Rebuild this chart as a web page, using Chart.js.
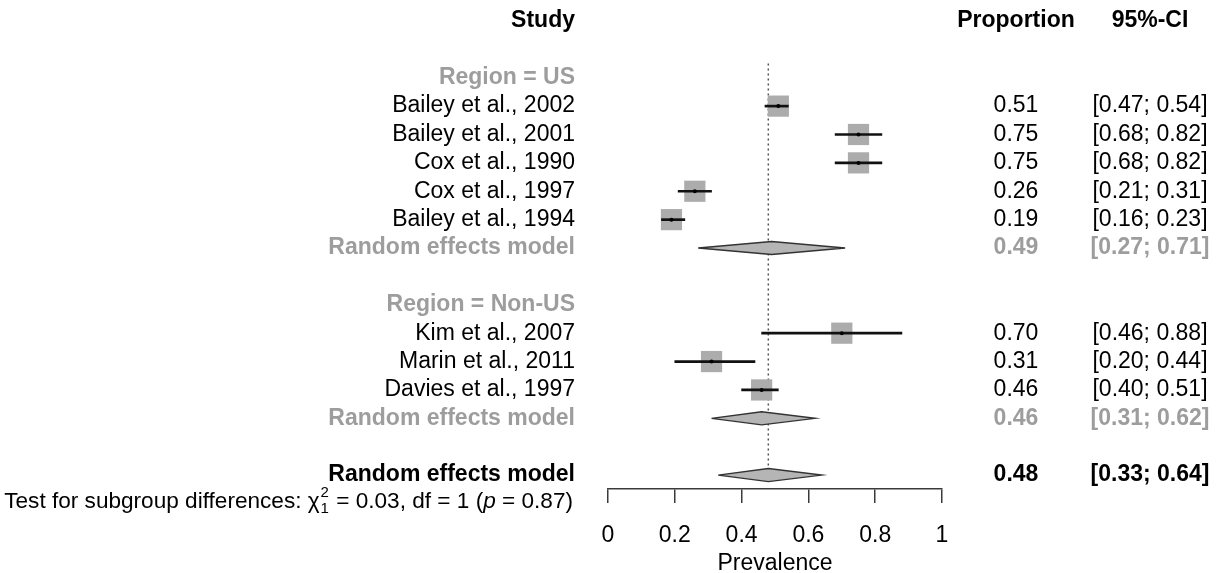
<!DOCTYPE html>
<html>
<head>
<meta charset="utf-8">
<script src="https://cdn.jsdelivr.net/npm/chart.js@4.4.1/dist/chart.umd.min.js"></script>
<style>
html, body { margin: 0; padding: 0; background: #fff; }
#wrap { width: 1217px; height: 573px; }
</style>
</head>
<body>
<div id="wrap"><canvas id="forest" width="1217" height="573"></canvas></div>
<script>
// study data
const studies = ['Bailey et al., 2002', 'Bailey et al., 2001', 'Cox et al., 1990', 'Cox et al., 1997',
                 'Bailey et al., 1994', 'Kim et al., 2007', 'Marin et al., 2011', 'Davies et al., 1997'];
const studyGroup = [0, 0, 0, 0, 0, 1, 1, 1];
const proportion = [0.51, 0.75, 0.75, 0.26, 0.19, 0.70, 0.31, 0.46];
const ciLower = [0.47, 0.68, 0.68, 0.21, 0.16, 0.46, 0.20, 0.40];
const ciUpper = [0.54, 0.82, 0.82, 0.31, 0.23, 0.88, 0.44, 0.51];

const groupNames = ['Region = US', 'Region = Non-US'];
const groupEstimate = [0.49, 0.46];
const groupLower = [0.27, 0.31];
const groupUpper = [0.71, 0.62];

const overallEstimate = 0.48;
const overallLower = 0.33;
const overallUpper = 0.64;

const testChi2 = '0.03';
const testDf = '1';
const testP = '0.87';

const tickValues = [0, 0.2, 0.4, 0.6, 0.8, 1];
const tickLabels = ['0', '0.2', '0.4', '0.6', '0.8', '1'];

// row layout (row 0 = header)
let row = 2;
const studyRow = [], groupLabelRow = [], groupModelRow = [];
groupNames.forEach((g, gi) => {
    groupLabelRow.push(row++);
    studyGroup.forEach((sg, i) => { if (sg === gi) studyRow[i] = row++; });
    groupModelRow.push(row++);
    row++;
});
const overallRow = row;
const testRow = row + 0.95;

const FONT = '"Liberation Sans", Arial, sans-serif';
const SIZE = 23;
const GREY = '#9d9d9d';
const DIAMOND_HALF = 0.23;

function diamond(est, lo, hi, r) {
    return [
        {x: lo, y: r}, {x: est, y: r - DIAMOND_HALF}, {x: hi, y: r},
        {x: est, y: r + DIAMOND_HALF}, {x: lo, y: r}
    ];
}

const diamondStyle = {
    type: 'scatter',
    showLine: true,
    fill: 'shape',
    backgroundColor: '#b5b5b5',
    borderColor: '#333',
    borderWidth: 1.4,
    pointRadius: 0,
    tension: 0,
    order: 1
};

const datasets = [
    {
        type: 'scatter',
        data: [{x: overallEstimate, y: 1.5}, {x: overallEstimate, y: overallRow + 0.3}],
        showLine: true,
        borderColor: '#555',
        borderWidth: 1.5,
        borderDash: [2, 3],
        pointRadius: 0,
        order: 5
    },
    {
        type: 'scatter',
        data: proportion.map((p, i) => ({x: p, y: studyRow[i]})),
        pointStyle: 'rect',
        pointRadius: 15,
        backgroundColor: '#acacac',
        borderWidth: 0,
        order: 4
    },
    {
        type: 'bar',
        indexAxis: 'y',
        data: ciLower.map((lo, i) => ({x: [lo, ciUpper[i]], y: studyRow[i]})),
        backgroundColor: '#111',
        barThickness: 2,
        grouped: false,
        order: 3
    },
    {
        type: 'scatter',
        data: proportion.map((p, i) => ({x: p, y: studyRow[i]})),
        pointStyle: 'circle',
        pointRadius: 2,
        backgroundColor: '#000',
        borderWidth: 0,
        order: 2
    }
];
groupNames.forEach((g, gi) => {
    datasets.push(Object.assign({}, diamondStyle, {
        data: diamond(groupEstimate[gi], groupLower[gi], groupUpper[gi], groupModelRow[gi])
    }));
});
datasets.push(Object.assign({}, diamondStyle, {
    data: diamond(overallEstimate, overallLower, overallUpper, overallRow)
}));

const textColumns = {
    id: 'textColumns',
    afterDraw(chart) {
        const ctx = chart.ctx;
        const yPix = r => chart.scales.y.getPixelForValue(r);
        const put = (text, x, r, align, color, bold) => {
            ctx.font = (bold ? 'bold ' : '') + SIZE + 'px ' + FONT;
            ctx.fillStyle = color;
            ctx.textAlign = align;
            ctx.fillText(text, x, yPix(r));
        };
        const ci = (lo, hi) => '[' + lo.toFixed(2) + '; ' + hi.toFixed(2) + ']';
        const LABEL_X = 575, PROP_X = 1016, CI_X = 1150;

        ctx.save();
        ctx.textBaseline = 'middle';

        put('Study', LABEL_X, 0, 'right', '#000', true);
        put('Proportion', PROP_X, 0, 'center', '#000', true);
        put('95%-CI', CI_X, 0, 'center', '#000', true);

        studies.forEach((s, i) => {
            put(s, LABEL_X, studyRow[i], 'right', '#000', false);
            put(proportion[i].toFixed(2), PROP_X, studyRow[i], 'center', '#000', false);
            put(ci(ciLower[i], ciUpper[i]), CI_X, studyRow[i], 'center', '#000', false);
        });

        groupNames.forEach((g, gi) => {
            put(g, LABEL_X, groupLabelRow[gi], 'right', GREY, true);
            put('Random effects model', LABEL_X, groupModelRow[gi], 'right', GREY, true);
            put(groupEstimate[gi].toFixed(2), PROP_X, groupModelRow[gi], 'center', GREY, true);
            put(ci(groupLower[gi], groupUpper[gi]), CI_X, groupModelRow[gi], 'center', GREY, true);
        });

        put('Random effects model', LABEL_X, overallRow, 'right', '#000', true);
        put(overallEstimate.toFixed(2), PROP_X, overallRow, 'center', '#000', true);
        put(ci(overallLower, overallUpper), CI_X, overallRow, 'center', '#000', true);

        // test for subgroup differences, with chi^2 sub/superscripts
        const base = '22.6px ' + FONT;
        const small = '15px ' + FONT;
        const parts = [
            {t: 'Test for subgroup differences: ', f: base},
            {t: '\u03C7', f: base},
            {sup: '2', sub: '1'},
            {t: ' = ' + testChi2 + ', df = ' + testDf + ' (', f: base},
            {t: 'p', f: 'italic ' + base},
            {t: ' = ' + testP + ')', f: base}
        ];
        let total = 0;
        parts.forEach(p => {
            if (p.sup) {
                ctx.font = small;
                p.w = Math.max(ctx.measureText(p.sup).width, ctx.measureText(p.sub).width) + 2;
            } else {
                ctx.font = p.f;
                p.w = ctx.measureText(p.t).width;
            }
            total += p.w;
        });
        let x = LABEL_X - 2 - total;
        const ty = yPix(testRow);
        ctx.fillStyle = '#000';
        ctx.textAlign = 'left';
        parts.forEach(p => {
            if (p.sup) {
                ctx.font = small;
                ctx.fillText(p.sup, x + 1, ty - 9);
                ctx.fillText(p.sub, x + 1, ty + 7);
            } else {
                ctx.font = p.f;
                ctx.fillText(p.t, x, ty);
            }
            x += p.w;
        });
        ctx.restore();
    }
};

new Chart(document.getElementById('forest'), {
    type: 'scatter',
    data: { datasets: datasets },
    options: {
        responsive: false,
        animation: false,
        events: [],
        layout: { padding: { left: 608, right: 275, top: 0, bottom: 0 } },
        scales: {
            x: {
                type: 'linear',
                min: 0,
                max: 1,
                offset: false,
                afterBuildTicks: scale => { scale.ticks = tickValues.map(v => ({value: v})); },
                afterFit: scale => { scale.height = 84; },
                ticks: {
                    callback: (v, i) => tickLabels[i],
                    color: '#000',
                    padding: 21,
                    maxRotation: 0,
                    font: { family: FONT, size: SIZE, lineHeight: 1 }
                },
                grid: { drawOnChartArea: false, tickLength: 14, color: '#3a3a3a', lineWidth: 1.5 },
                border: { display: true, color: '#3a3a3a', width: 1.5 },
                title: {
                    display: true,
                    text: 'Prevalence',
                    color: '#000',
                    padding: { top: 0, bottom: -2 },
                    font: { family: FONT, size: SIZE, lineHeight: 1 }
                }
            },
            y: {
                type: 'linear',
                display: false,
                reverse: true,
                min: -0.21,
                max: 16.49,
                offset: false,
                grid: { offset: false }
            }
        },
        plugins: {
            legend: { display: false },
            tooltip: { enabled: false }
        }
    },
    plugins: [textColumns]
});
</script>
</body>
</html>
